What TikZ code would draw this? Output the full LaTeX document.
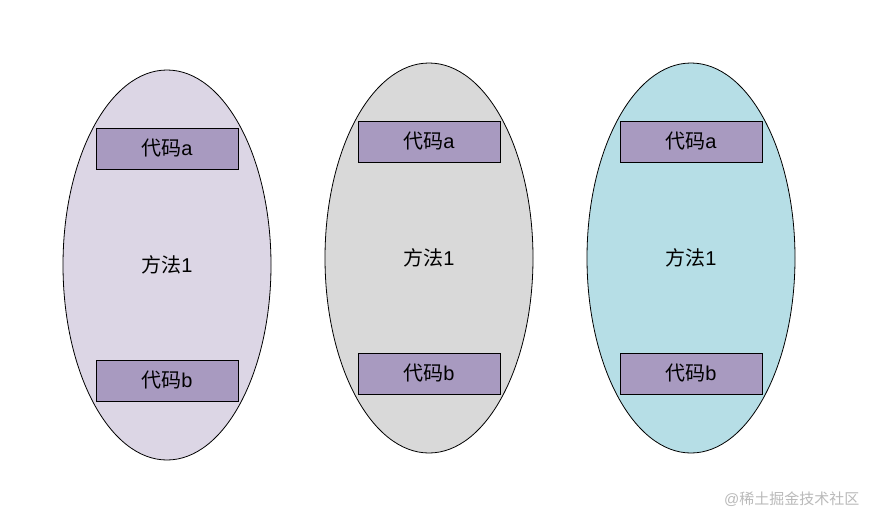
\documentclass[tikz,border=0pt]{standalone}
\usepackage{fontspec}
\setmainfont{Liberation Sans}
\newfontfamily\cjk{Noto Sans CJK SC}
\usetikzlibrary{shapes.geometric}
\definecolor{methodA}{HTML}{DCD6E5}
\definecolor{methodB}{HTML}{D9D9D9}
\definecolor{methodC}{HTML}{B6DEE6}
\definecolor{codefill}{HTML}{A89AC0}
\begin{document}
\begin{tikzpicture}[x=1pt,y=-1pt]
  \tikzset{
    method/.style={ellipse, draw=black, line width=0.8pt, inner sep=0pt,
      minimum width=208pt, minimum height=390pt},
    codebox/.style={rectangle, draw=black, line width=0.8pt, fill=codefill,
      minimum width=142pt, minimum height=41pt, inner sep=0pt,
      font=\fontsize{20}{22}\selectfont},
    label/.style={font=\fontsize{20}{22}\selectfont}
  }
  \fill[white] (0,0) rectangle (870,517);
  % three methods, each with code a on top and code b below
  \foreach \name/\cx/\cy/\col in {m1/167/265/methodA, m2/429/258/methodB, m3/691/258/methodC}{
    \node[method, fill=\col] (\name) at (\cx,\cy) {};
    \node[label] (\name t) at (\cx,\cy) {{\cjk 方法}1};
    \node[codebox] (\name a) at (\cx,\cy-116.5) {{\cjk 代码}a};
    \node[codebox] (\name b) at (\cx,\cy+115.5) {{\cjk 代码}b};
  }
  \node[anchor=east, text=black!27, font=\fontsize{15}{17}\selectfont]
    (mark) at (863,499) {@{\cjk 稀土掘金技术社区}};
\end{tikzpicture}
\end{document}
